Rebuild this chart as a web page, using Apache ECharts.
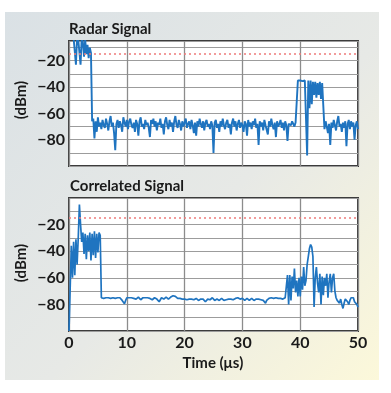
<!DOCTYPE html>
<html>
<head>
<meta charset="utf-8">
<script src="https://cdn.jsdelivr.net/npm/echarts@6/dist/echarts.min.js"></script>
<style>html,body{margin:0;padding:0;background:#fff;}#c{width:391px;height:393px;}</style>
</head>
<body>
<div id="c"></div>
<script>
// ---- data ----
var sampleStepUs = 0.2;           // sample spacing of both traces, in microseconds
var thresholdDbm = -15;           // red dotted threshold line
var xTicks = [0, 10, 20, 30, 40, 50];
var yTickLabels = [-20, -40, -60, -80];

var radarDbm = [
  -2, -2, -1, -2, -3, -2, -23, -2, -4, -3,
  -23, -2, -6, -17, -4, -15, -8, -18, -10, -14,
  -66,
  -64, -79, -66, -74, -63, -70, -67, -72, -65, -69,
  -71, -64, -68, -73, -66, -62, -70, -67, -75, -88,
  -68, -65, -71, -66, -69, -74, -63, -67, -70, -65,
  -72, -66, -64, -69, -71, -67, -74, -65, -68, -77,
  -66, -63, -70, -68, -72, -65, -69, -67, -71, -78,
  -65, -68, -64, -70, -66, -73, -67, -69, -64, -71,
  -68, -76, -66, -63, -69, -72, -65, -70, -67, -74,
  -66, -62, -69, -71, -65, -68, -73, -66, -70, -67,
  -64, -71, -68, -66, -72, -65, -69, -75, -67, -77,
  -66, -70, -64, -68, -71, -66, -73, -67, -65, -70,
  -68, -72, -66, -69, -90, -67, -65, -71, -68, -74,
  -66, -70, -64, -69, -72, -67, -65, -71, -68, -76,
  -67, -64, -70, -66, -73, -68, -65, -71, -67, -69,
  -74, -66, -68, -77, -65, -70, -67, -72, -66, -69,
  -64, -71, -68, -84, -66, -70, -67, -73, -65, -69,
  -68, -76, -66, -70, -64, -69, -72, -67, -78, -66,
  -70, -68, -65, -71, -67, -73, -66, -69, -81, -68,
  -67, -69, -66, -68, -70, -67, -68,
  -35,
  -35, -35, -35, -35.5, -35, -35, -36, -92, -35, -56,
  -35, -53, -36, -46, -36, -48, -37, -46, -36, -49,
  -37, -36,
  -72, -66, -70, -75, -68, -84, -67, -71, -65, -69,
  -73, -66, -62, -70, -68, -74, -67, -71, -66, -85,
  -68, -65, -72, -66, -70, -67, -80, -69, -66, -72
];

var correlatedDbm = [
  -100, -100, -36, -60, -33, -58, -31, -50, -30, -5,
  -20, -33, -26, -42, -27, -46, -28, -40, -26, -47,
  -27, -43, -25, -45, -27, -41, -26, -28,
  -75, -76, -75.5, -74.5, -75, -76, -75, -74.5, -75.5, -76,
  -75, -74.5, -75.5, -76.5, -75, -74.5, -75, -76, -77, -78,
  -79.5, -77, -75, -74.5, -75, -76, -75, -74.5, -75.5, -75,
  -76, -75, -74.5, -75, -76.5, -75.5, -75, -76, -75, -74.5,
  -75, -76, -75.5, -75, -76.5, -76, -75, -74.5, -76, -77,
  -78, -76.5, -75, -75.5, -76, -75, -74.5, -75, -76, -75,
  -74.5, -74, -73.5, -73, -74, -75, -75.5, -76, -75.5, -76.5,
  -76, -77, -76, -75.5, -76.5, -77, -76, -75.5, -76, -77,
  -76.5, -76, -75.5, -76, -77, -76.5, -76, -75.5, -76, -77,
  -78, -77, -76, -75.5, -76.5, -76, -75, -76, -77, -76.5,
  -76, -76.5, -77, -76, -75.5, -76.5, -77, -76, -76.5, -77,
  -76, -75.5, -76, -77, -76.5, -76, -75.5, -76, -75, -75.5,
  -76, -76.5, -75.5, -76, -77, -76, -75.5, -76.5, -77, -76,
  -75.5, -76, -77, -76.5, -76, -75.5, -76, -77, -76.5, -76,
  -77, -78, -79, -77, -76, -75.5, -76, -75, -74.5, -75.5,
  -76, -75, -74.5, -75.5, -76, -75.5, -75, -76, -75.5, -75,
  -75, -58, -80, -58, -77, -59, -68, -53, -71, -62,
  -74, -60, -74, -59, -69, -52, -66, -62, -50, -44,
  -38, -35, -37, -44, -82, -60, -52, -64, -71, -57,
  -80, -59, -73, -60, -66, -57, -75, -63, -57, -71,
  -60, -57, -70, -75, -77, -76, -79, -76, -80, -83,
  -79, -76, -75, -78, -80, -77, -75, -76, -75, -78,
  -77, -80, -82
];

// ---- build [time, value] pairs ----
function pairs(arr) {
  return arr.map(function (v, i) { return [+(i * sampleStepUs).toFixed(2), v]; });
}

var FONT = 'Lato';
var DARK = '#1a1a1a';
var BLUE = '#1f74c0';

var chart = echarts.init(document.getElementById('c'), null, { renderer: 'canvas' });

function yLabel(v) {
  return yTickLabels.indexOf(v) >= 0 ? '\u2212' + Math.abs(v) : '';
}

var gridCommon = {
  show: true, backgroundColor: '#ffffff', borderColor: '#3c3c3c', borderWidth: 2
};

function xAxisDef(idx, showLabels) {
  return {
    type: 'value', gridIndex: idx, min: xTicks[0], max: xTicks[xTicks.length - 1], interval: 10,
    axisLine: { show: false }, axisTick: { show: false },
    axisLabel: { show: showLabels, color: DARK, fontFamily: FONT, fontWeight: 'bold', fontSize: 16, margin: 4 },
    splitLine: { show: true, lineStyle: { color: '#8c8c8c', width: 1.3 } }
  };
}
function yAxisDef(idx, max) {
  return {
    type: 'value', gridIndex: idx, min: -100, max: max, interval: 10,
    axisLine: { show: false }, axisTick: { show: false },
    axisLabel: { show: true, color: DARK, fontFamily: FONT, fontWeight: 'bold', fontSize: 16, margin: 4,
      formatter: yLabel, showMinLabel: false, showMaxLabel: false },
    splitLine: { show: true, lineStyle: { color: '#9c9c9c', width: 1 } }
  };
}
var threshold = {
  silent: true, symbol: 'none', label: { show: false },
  lineStyle: { color: '#ee7b7b', type: [2, 3], width: 1.6 },
  data: [{ yAxis: thresholdDbm }]
};

var option = {
  animation: false,
  backgroundColor: '#ffffff',
  graphic: [
    { type: 'rect', z: -100, shape: { x: 5, y: 12, width: 374, height: 368 },
      style: { fill: new echarts.graphic.LinearGradient(0, 0, 1, 1, [
        { offset: 0, color: '#dae1e5' }, { offset: 0.55, color: '#e7e9e6' }, { offset: 1, color: '#fcf8da' }]) } },
    { type: 'text', x: 69, y: 29, style: { text: 'Radar Signal', fill: DARK, font: 'bold 15px Lato', textAlign: 'left', textVerticalAlign: 'middle' } },
    { type: 'text', x: 70, y: 186, style: { text: 'Correlated Signal', fill: DARK, font: 'bold 15px Lato', textAlign: 'left', textVerticalAlign: 'middle' } },
    { type: 'text', x: 21, y: 100, rotation: Math.PI / 2, style: { text: '(dBm)', fill: DARK, font: 'bold 15px Lato', textAlign: 'center', textVerticalAlign: 'middle' } },
    { type: 'text', x: 21, y: 263, rotation: Math.PI / 2, style: { text: '(dBm)', fill: DARK, font: 'bold 15px Lato', textAlign: 'center', textVerticalAlign: 'middle' } },
    { type: 'text', x: 213, y: 363, style: { text: 'Time (\u03bcs)', fill: DARK, font: 'bold 15px Lato', textAlign: 'center', textVerticalAlign: 'middle' } }
  ],
  grid: [
    Object.assign({ left: 69, top: 41, width: 289, height: 125 }, gridCommon),
    Object.assign({ left: 69, top: 198, width: 289, height: 133 }, gridCommon)
  ],
  xAxis: [xAxisDef(0, false), xAxisDef(1, true)],
  yAxis: [yAxisDef(0, -5), yAxisDef(1, 0)],
  series: [
    { type: 'line', xAxisIndex: 0, yAxisIndex: 0, data: pairs(radarDbm), showSymbol: false, clip: true,
      lineStyle: { color: BLUE, width: 1.9 }, markLine: threshold, z: 3 },
    { type: 'line', xAxisIndex: 1, yAxisIndex: 1, data: pairs(correlatedDbm), showSymbol: false, clip: true,
      lineStyle: { color: BLUE, width: 1.7 }, markLine: threshold, z: 3 }
  ]
};
chart.setOption(option);
</script>
</body>
</html>
